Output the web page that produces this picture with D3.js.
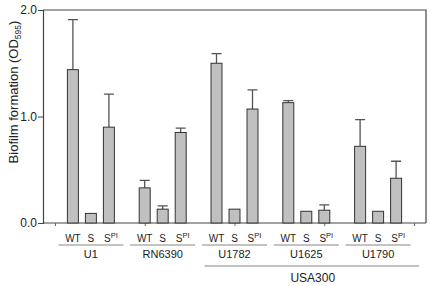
<!DOCTYPE html>
<html>
<head>
<meta charset="utf-8">
<script src="https://cdn.jsdelivr.net/npm/d3@7"></script>
<style>
  body { margin: 0; background: #fff; }
  text { font-family: "Liberation Sans", Arial, sans-serif; fill: #222; }
</style>
</head>
<body>
<div id="chart"></div>
<script>
const strains = ["U1", "RN6390", "U1782", "U1625", "U1790"];
const conditions = ["WT", "S", "SPI"];
// mean biofilm formation (OD595) per strain: WT, S, S^PI
const means = [
  [1.44, 0.09, 0.90],
  [0.33, 0.13, 0.85],
  [1.50, 0.13, 1.07],
  [1.13, 0.11, 0.12],
  [0.72, 0.11, 0.42]
];
// upper error (mean + sd); null = no visible error bar
const errTop = [
  [1.91, null, 1.21],
  [0.40, 0.16, 0.89],
  [1.59, null, 1.25],
  [1.15, null, 0.17],
  [0.97, null, 0.58]
];
const yTicks = [0, 1, 2];
const usaGroup = ["U1782", "U1625", "U1790"];

const W = 430, H = 286;
const margin = {top: 10, right: 4, bottom: 63, left: 43};
const width = W - margin.left - margin.right;
const height = H - margin.top - margin.bottom;

const data = [];
strains.forEach((s, i) => conditions.forEach((c, j) => {
  data.push({strain: s, cond: c, value: means[i][j], err: errTop[i][j]});
}));

const svg = d3.select("#chart").append("svg")
    .attr("width", W).attr("height", H)
  .append("g")
    .attr("transform", `translate(${margin.left},${margin.top})`);

const x0 = d3.scaleBand().domain(strains).range([12, width - 12]);
const x1 = d3.scaleBand().domain(conditions).range([-27, 27])
    .paddingInner(0.39).paddingOuter(0.195);
const y = d3.scaleLinear().domain([0, 2]).range([height, 0]);
const cx = d => x0(d.strain) + x0.bandwidth() / 2 + x1(d.cond);

// frame (top + right)
svg.append("path")
    .attr("d", `M0,0H${width}V${height}`)
    .attr("fill", "none").attr("stroke", "#444").attr("stroke-width", 1.2);

// y axis
const yAxis = svg.append("g")
    .call(d3.axisLeft(y).tickValues(yTicks).tickFormat(d3.format(".1f")).tickSize(5).tickPadding(1));
yAxis.select(".domain").attr("stroke", "#444").attr("stroke-width", 1.2);
yAxis.selectAll(".tick line").attr("stroke", "#444");
yAxis.selectAll("text").style("font-size", "12px").attr("fill", "#333")
    .attr("font-family", "Liberation Sans, Arial, sans-serif");

// x axis line with small ticks
const xTickScale = d3.scaleLinear().domain([0, 4]).range([12, width - 12]);
const xAxis = svg.append("g")
    .attr("transform", `translate(0,${height})`)
    .call(d3.axisBottom(xTickScale).ticks(4).tickSize(3).tickFormat(""));
xAxis.select(".domain").attr("d", `M0,0H${width}`).attr("stroke", "#444").attr("stroke-width", 1.2);
xAxis.selectAll(".tick line").attr("stroke", "#666");

// error bars (upward only)
const errs = data.filter(d => d.err !== null);
svg.selectAll(".err")
    .data(errs).enter().append("path")
    .attr("class", "err")
    .attr("d", d => {
      const c = cx(d) + x1.bandwidth() / 2;
      return `M${c},${y(d.value)}V${y(d.err)}M${c - 5},${y(d.err)}H${c + 5}`;
    })
    .attr("fill", "none").attr("stroke", "#555").attr("stroke-width", 1.3);

// bars
svg.selectAll(".bar")
    .data(data).enter().append("rect")
    .attr("class", "bar")
    .attr("x", d => cx(d))
    .attr("y", d => y(d.value))
    .attr("width", x1.bandwidth())
    .attr("height", d => height - y(d.value))
    .attr("fill", "#c0c0c0").attr("stroke", "#333").attr("stroke-width", 1);

// condition labels
const condLabels = svg.selectAll(".cond")
    .data(data).enter().append("text")
    .attr("class", "cond")
    .attr("x", d => cx(d) + x1.bandwidth() / 2 + (d.cond === "SPI" ? 2 : 0))
    .attr("y", height + 19)
    .attr("text-anchor", "middle")
    .style("font-size", "10px");
condLabels.filter(d => d.cond !== "SPI").text(d => d.cond);
const spi = condLabels.filter(d => d.cond === "SPI");
spi.append("tspan").text("S");
spi.append("tspan").text("PI").attr("dy", -4).style("font-size", "7.5px");

// strain labels with underline
strains.forEach(s => {
  const c = x0(s) + x0.bandwidth() / 2;
  svg.append("line")
      .attr("x1", c - 32.5).attr("x2", c + 32.5)
      .attr("y1", height + 22).attr("y2", height + 22)
      .attr("stroke", "#888").attr("stroke-width", 1.2);
  svg.append("text")
      .attr("x", c).attr("y", height + 35)
      .attr("text-anchor", "middle")
      .style("font-size", "11px")
      .text(s);
});

// USA300 bracket
const ux1 = x0(usaGroup[0]) + x0.bandwidth() / 2 - 30;
const ux2 = x0(usaGroup[2]) + x0.bandwidth() / 2 + 41;
svg.append("line")
    .attr("x1", ux1).attr("x2", ux2)
    .attr("y1", height + 43).attr("y2", height + 43)
    .attr("stroke", "#888").attr("stroke-width", 1.2);
svg.append("text")
    .attr("x", (ux1 + ux2) / 2 + 1)
    .attr("y", height + 59)
    .attr("text-anchor", "middle")
    .style("font-size", "12px")
    .text("USA300");

// y axis title
const yt = d3.select("svg").append("text")
    .attr("transform", "translate(17.5,92) rotate(-90)")
    .attr("text-anchor", "middle")
    .style("font-size", "13px");
yt.append("tspan").text("Biofilm formation (OD");
yt.append("tspan").text("595").attr("dy", 3).style("font-size", "8.5px");
yt.append("tspan").text(")").attr("dy", -3);
</script>
</body>
</html>
